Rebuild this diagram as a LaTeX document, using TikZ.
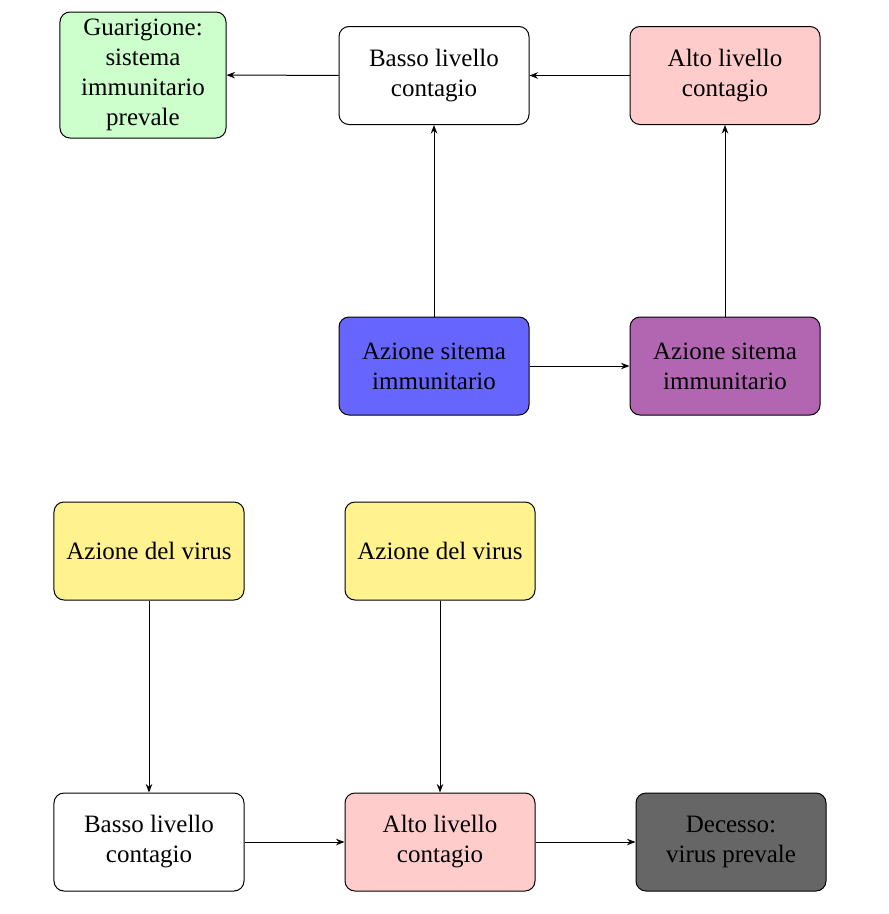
\documentclass[tikz,border=0pt]{standalone}
\usepackage{fontspec}
\setmainfont{Liberation Serif}
\usetikzlibrary{arrows.meta}
\definecolor{cgreen}{RGB}{204,255,204}
\definecolor{cred}{RGB}{255,204,204}
\definecolor{cblue}{RGB}{102,102,255}
\definecolor{cpurple}{RGB}{178,102,178}
\definecolor{cyellow}{RGB}{255,242,143}
\definecolor{cgray}{RGB}{102,102,102}
\tikzset{
  box/.style={draw=black, rounded corners=4pt, align=center, minimum width=76pt, minimum height=39.2pt, inner sep=2pt, font=\fontsize{10}{12}\selectfont, line width=0.4pt},
  arr/.style={-{Stealth[length=3.4pt,width=2.6pt]}, line width=0.4pt},
}
\begin{document}
\begin{tikzpicture}[x=0.4pt,y=-0.4pt]
\useasboundingbox (0,0) rectangle (888,914);
\node[box, fill=cgreen, minimum width=66.4pt, minimum height=50.4pt] (gua) at (143,75) {Guarigione:\\sistema\\immunitario\\prevale};
\node[box, fill=white] (bt) at (434,75.5) {Basso livello\\contagio};
\node[box, fill=cred] (at) at (725,75.5) {Alto livello\\contagio};
\node[box, fill=cblue] (ib) at (434,366) {Azione sitema\\immunitario};
\node[box, fill=cpurple] (ip) at (725,366) {Azione sitema\\immunitario};
\node[box, fill=cyellow] (v1) at (149,551) {Azione del virus};
\node[box, fill=cyellow] (v2) at (440,551) {Azione del virus};
\node[box, fill=white] (bb) at (149,842) {Basso livello\\contagio};
\node[box, fill=cred] (ab) at (440,842) {Alto livello\\contagio};
\node[box, fill=cgray] (dec) at (731,842) {Decesso:\\virus prevale};
\draw[arr] (bt) -- (gua);
\draw[arr] (at) -- (bt);
\draw[arr] (ib) -- (bt);
\draw[arr] (ip) -- (at);
\draw[arr] (ib) -- (ip);
\draw[arr] (v1) -- (bb);
\draw[arr] (v2) -- (ab);
\draw[arr] (bb) -- (ab);
\draw[arr] (ab) -- (dec);
\end{tikzpicture}
\end{document}
